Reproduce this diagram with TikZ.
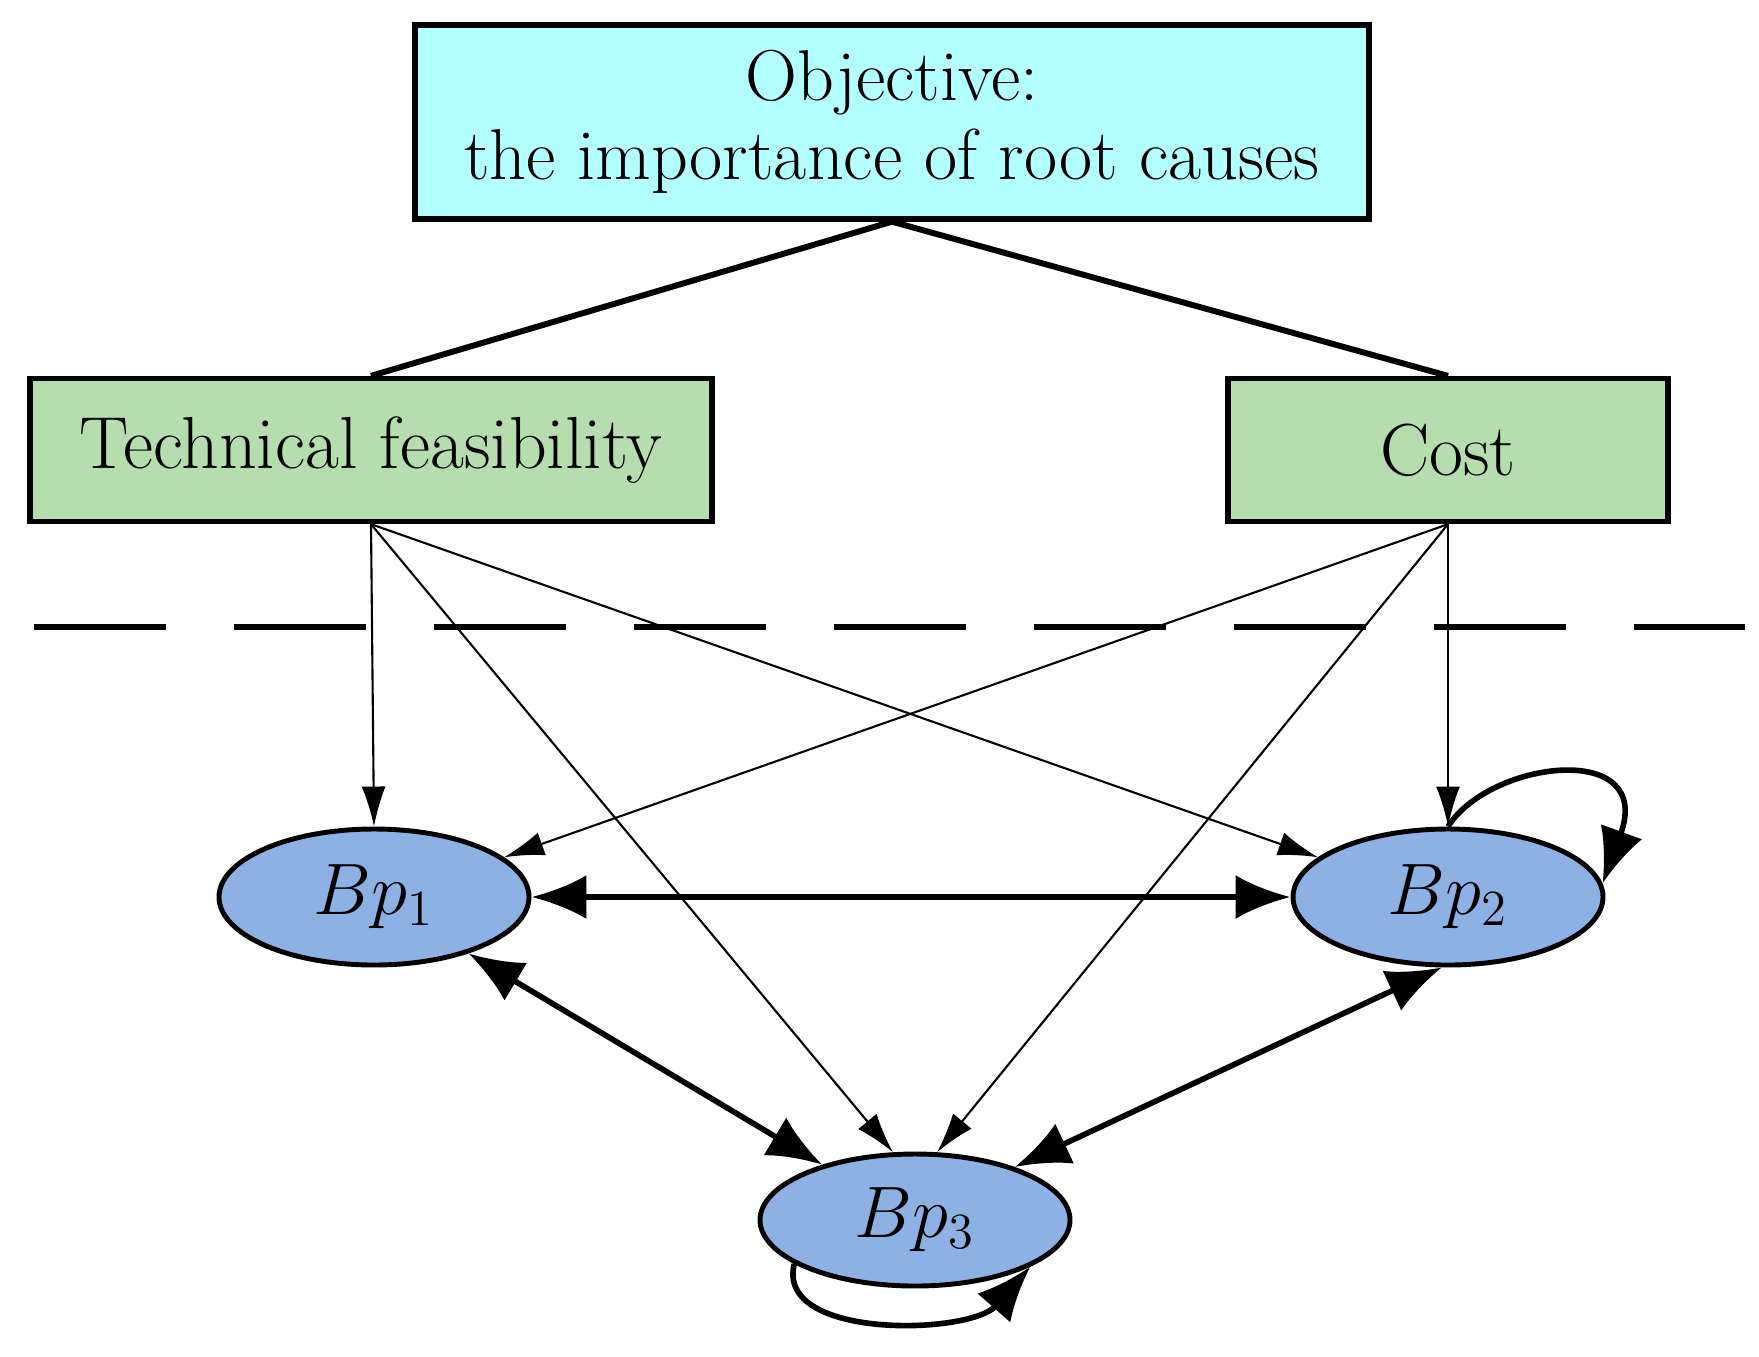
\documentclass[tikz,border=0pt]{standalone}
\usetikzlibrary{arrows.meta,shapes.geometric}
\definecolor{objcyan}{RGB}{179,255,255}
\definecolor{critgreen}{RGB}{181,221,174}
\definecolor{bpblue}{RGB}{142,177,227}

\begin{document}
\begin{tikzpicture}[
  objbox/.style={draw,line width=1.5pt,fill=objcyan,minimum width=9.54cm,minimum height=1.94cm,align=center,font=\fontsize{20.5}{22.5}\selectfont},
  critbox/.style={draw,line width=1.5pt,fill=critgreen,minimum height=1.43cm,font=\fontsize{21}{24}\selectfont},
  bpnode/.style={draw,ellipse,line width=1.4pt,fill=bpblue,minimum width=3.1cm,minimum height=1.36cm,inner sep=0pt,font=\fontsize{22}{26}\selectfont},
  tree/.style={line width=1.7pt},
  feed/.style={-{Latex[length=4mm,width=2.4mm]},line width=0.6pt},
  mutual/.style={{Latex[length=5.5mm,width=4.4mm]}-{Latex[length=5.5mm,width=4.4mm]},line width=1.6pt},
  selfloop/.style={-{Latex[length=5.5mm,width=4.4mm]},line width=1.6pt}]
\useasboundingbox (0,0) rectangle (17.59,-13.56);

% goal and criteria
\node[objbox] (obj) at (8.92,-1.22) {Objective:\\the importance of root causes};
\node[critbox,minimum width=6.82cm] (tf) at (3.71,-4.50) {Technical feasibility};
\node[critbox,minimum width=4.40cm] (cost) at (14.48,-4.50) {Cost};
\draw[tree] (obj.south) -- (tf.north);
\draw[tree] (obj.south) -- (cost.north);

% separation line
\coordinate (dl) at (0.34,-6.27);
\coordinate (dr) at (17.45,-6.27);
\draw[line width=1.6pt,dash pattern=on 1.32cm off 0.68cm] (dl) -- (dr);

% alternatives
\node[bpnode] (bp1) at (3.74,-8.97) {$Bp_1$};
\node[bpnode] (bp2) at (14.48,-8.97) {$Bp_2$};
\node[bpnode,minimum height=1.32cm] (bp3) at (9.15,-12.20) {$Bp_3$};

\draw[feed] (tf.south) -- (bp1.north);
\draw[feed] (tf.south) -- (bp3.108);
\draw[feed] (tf.south) -- (bp2.163);
\draw[feed] (cost.south) -- (bp2.north);
\draw[feed] (cost.south) -- (bp1.17);
\draw[feed] (cost.south) -- (bp3.72);

\draw[mutual] (bp1.east) -- (bp2.west);
\draw[mutual] (bp1) -- (bp3);
\draw[mutual] (bp2.265) -- (bp3.28);

% self loops
\draw[selfloop] (bp2.north) .. controls (14.9,-7.6) and (16.55,-7.4) .. (bp2.5);
\draw[selfloop] (bp3.200) .. controls (7.75,-13.4) and (9.7,-13.35) .. (bp3.-22);
\end{tikzpicture}
\end{document}
